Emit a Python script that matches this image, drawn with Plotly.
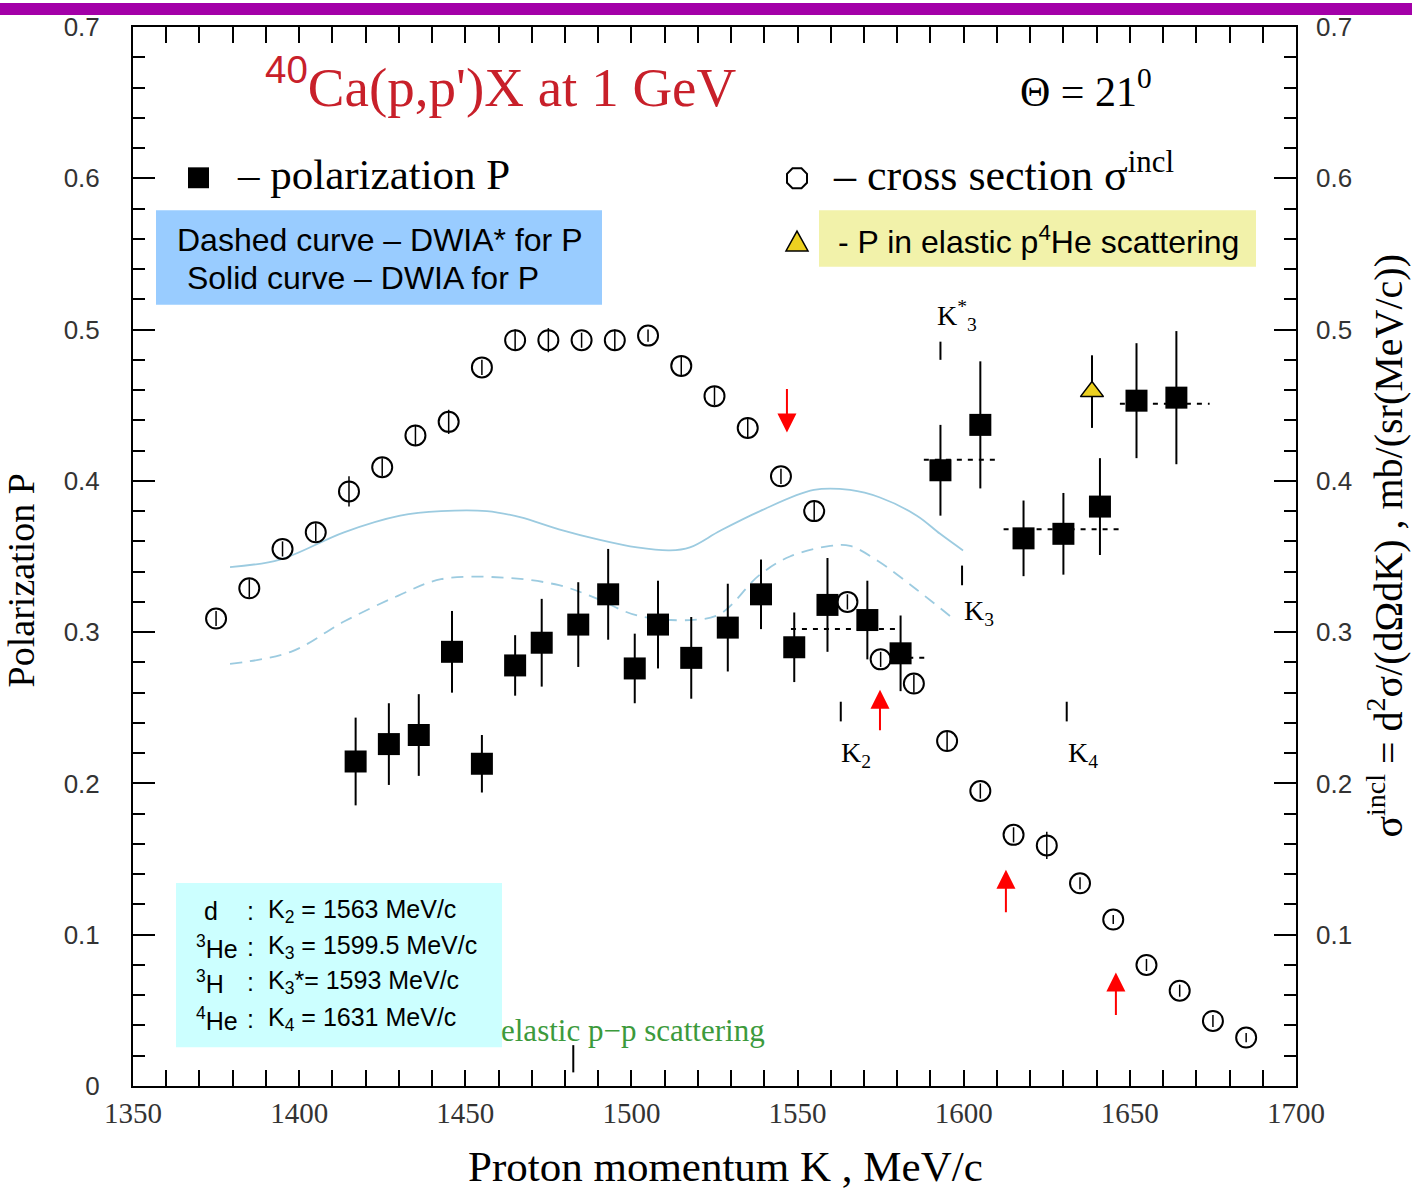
import plotly.graph_objects as go

# ---------------- data ----------------
# inclusive cross section (open circles), right axis units
xs_K = [1375, 1385, 1395, 1405, 1415, 1425, 1435, 1445, 1455, 1465, 1475, 1485,
        1495, 1505, 1515, 1525, 1535, 1545, 1555, 1565, 1575, 1585, 1595, 1605,
        1615, 1625, 1635, 1645, 1655, 1665, 1675, 1685]
xs_val = [0.309, 0.329, 0.355, 0.366, 0.393, 0.409, 0.430, 0.439, 0.475, 0.493,
          0.493, 0.493, 0.493, 0.496, 0.476, 0.456, 0.435, 0.403, 0.380, 0.320,
          0.282, 0.266, 0.228, 0.195, 0.166, 0.159, 0.134, 0.110, 0.080, 0.063,
          0.043, 0.032]
xs_err = [0.005, 0.006, 0.005, 0.006, 0.010, 0.006, 0.007, 0.008, 0.005, 0.007,
          0.008, 0.005, 0.007, 0.004, 0.006, 0.006, 0.007, 0.005, 0.007, 0.005,
          0.005, 0.006, 0.006, 0.005, 0.005, 0.009, 0.004, 0.003, 0.004, 0.004,
          0.004, 0.003]

# polarization P (filled squares)
pol_K = [1417, 1427, 1436, 1446, 1455, 1465, 1473, 1484, 1493, 1501, 1508, 1518,
         1529, 1539, 1549, 1559, 1571, 1581, 1593, 1605, 1618, 1630, 1641, 1652, 1664]
pol_val = [0.2145, 0.226, 0.232, 0.287, 0.213, 0.278, 0.293, 0.305, 0.325, 0.276,
           0.305, 0.283, 0.303, 0.325, 0.290, 0.318, 0.308, 0.286, 0.407, 0.437,
           0.362, 0.365, 0.383, 0.453, 0.455]
pol_err = [0.029, 0.027, 0.027, 0.027, 0.019, 0.020, 0.029, 0.028, 0.030, 0.023,
           0.029, 0.027, 0.029, 0.023, 0.023, 0.031, 0.026, 0.025, 0.030, 0.042,
           0.025, 0.027, 0.032, 0.038, 0.044]

# P in elastic p4He scattering (triangle)
he4_K = [1638.6]
he4_val = [0.459]
he4_err = [0.024]

# averaged P levels (dotted segments)
avg_x0 = [1548, 1580, 1588, 1612, 1647]
avg_x1 = [1581, 1589, 1610, 1647, 1674]
avg_y = [0.302, 0.283, 0.414, 0.368, 0.451]

# DWIA curves
dwia_K = [1379.2, 1394.2, 1413.5, 1430.4, 1442.7, 1456.5, 1466.5, 1478.2, 1490.5,
          1501.7, 1511.6, 1517.6, 1526.7, 1538.7, 1554.9, 1565.8, 1574.8, 1585.9,
          1592.9, 1599.8]
dwia_P = [0.343, 0.348, 0.366, 0.377, 0.380, 0.380, 0.376, 0.368, 0.361, 0.356,
          0.354, 0.356, 0.367, 0.380, 0.394, 0.394, 0.389, 0.377, 0.365, 0.354]
dwias_K = [1379.2, 1397.5, 1413.5, 1429.7, 1442.7, 1462.0, 1478.2, 1488.7, 1501.7,
           1517.6, 1526.7, 1538.4, 1547.7, 1559.8, 1565.8, 1574.2, 1585.9, 1596.8]
dwias_P = [0.279, 0.287, 0.307, 0.324, 0.335, 0.336, 0.331, 0.323, 0.311, 0.308,
           0.312, 0.3375, 0.350, 0.357, 0.357, 0.347, 0.328, 0.309]

# kinematic limits
k_names = ["K<sub>2</sub>", "K<sub>3</sub>", "K<sup>*</sup><sub>3</sub>", "K<sub>4</sub>"]
k_vals = [1563, 1599.5, 1593, 1631]
k_mark_lo = [0.241, 0.331, 0.480, 0.241]
k_mark_hi = [0.254, 0.344, 0.492, 0.254]
pp_K = 1482.5

# red arrows
arrow_K = [1546.8, 1574.8, 1612.7, 1645.8]
arrow_tip = [0.432, 0.262, 0.143, 0.075]
arrow_ay = [-45, 42, 44, 44]

x_ticks = [1350, 1400, 1450, 1500, 1550, 1600, 1650, 1700]
y_ticks_left = [0, 0.1, 0.2, 0.3, 0.4, 0.5, 0.6, 0.7]
y_ticks_right = [0.1, 0.2, 0.3, 0.4, 0.5, 0.6, 0.7]

# ---------------- layout helpers (pixel -> paper) ----------------
W, H = 1412, 1190
L, R, T, B = 133, 1296, 22, 1086


def px(xp):
    return (xp - L) / (R - L)


def py(yp):
    return (B - yp) / (B - T)


SERIF = "Liberation Serif, Times New Roman, serif"
SANS = "Liberation Sans, Arial, sans-serif"
CURVE = "#9ccbe0"

fig = go.Figure()

fig.add_trace(go.Scatter(x=dwia_K, y=dwia_P, mode="lines", line=dict(color=CURVE, width=1.8, shape="spline"),
                         showlegend=False, hoverinfo="skip"))
fig.add_trace(go.Scatter(x=dwias_K, y=dwias_P, mode="lines",
                         line=dict(color=CURVE, width=1.8, shape="spline", dash="12px,8px"),
                         showlegend=False, hoverinfo="skip"))

for x0, x1, yv in zip(avg_x0, avg_x1, avg_y):
    fig.add_trace(go.Scatter(x=[x0, x1], y=[yv, yv], mode="lines",
                             line=dict(color="black", width=2, dash="5px,6px"),
                             showlegend=False, hoverinfo="skip"))

fig.add_trace(go.Scatter(x=xs_K, y=xs_val, mode="markers",
                         marker=dict(symbol="circle-open", size=20, color="black", line=dict(width=2)),
                         error_y=dict(type="data", array=xs_err, color="black", thickness=1.5, width=0),
                         showlegend=False))

fig.add_trace(go.Scatter(x=pol_K, y=pol_val, mode="markers",
                         marker=dict(symbol="square", size=22, color="black"),
                         error_y=dict(type="data", array=pol_err, color="black", thickness=2, width=0),
                         showlegend=False))

fig.add_trace(go.Scatter(x=he4_K, y=he4_val, mode="markers",
                         marker=dict(symbol="triangle-up", size=20, color="#ecd020",
                                     line=dict(color="black", width=1.5)),
                         error_y=dict(type="data", array=he4_err, color="black", thickness=2, width=0),
                         showlegend=False))

# dummy trace for right axis
fig.add_trace(go.Scatter(x=[1350], y=[0], yaxis="y2", mode="markers",
                         marker=dict(opacity=0), showlegend=False, hoverinfo="skip"))

shapes = []
annotations = []

# K marks
for name, kv, lo, hi in zip(k_names, k_vals, k_mark_lo, k_mark_hi):
    shapes.append(dict(type="line", xref="x", yref="y", x0=kv, x1=kv, y0=lo, y1=hi,
                       line=dict(color="black", width=2)))
shapes.append(dict(type="line", xref="x", yref="y", x0=pp_K, x1=pp_K, y0=0.009, y1=0.027,
                   line=dict(color="black", width=2)))

k_lab_pos = [(856, 753), (979, 610), (957, 312), (1083, 753)]
for name, (xp, yp) in zip(k_names, k_lab_pos):
    annotations.append(dict(text=name, xref="paper", yref="paper", x=px(xp), y=py(yp),
                            xanchor="center", yanchor="middle",
                            showarrow=False, font=dict(family=SERIF, size=28, color="black")))

# arrows
for xa, ya, ay in zip(arrow_K, arrow_tip, arrow_ay):
    annotations.append(dict(x=xa, y=ya, xref="x", yref="y", ax=0, ay=ay, text="",
                            showarrow=True, arrowhead=2, arrowsize=1.9, arrowwidth=2,
                            arrowcolor="#ff0000"))

# boxes
shapes.append(dict(type="rect", xref="paper", yref="paper", x0=px(156), x1=px(602), y0=py(301), y1=py(206),
                   fillcolor="#99ccff", line=dict(width=0)))
shapes.append(dict(type="rect", xref="paper", yref="paper", x0=px(819), x1=px(1256), y0=py(263), y1=py(206),
                   fillcolor="#f2f2aa", line=dict(width=0)))
shapes.append(dict(type="rect", xref="paper", yref="paper", x0=px(176), x1=px(502), y0=py(1047), y1=py(882),
                   fillcolor="#ccffff", line=dict(width=0)))
# top purple band
shapes.append(dict(type="rect", xref="paper", yref="paper", x0=px(0), x1=px(W), y0=py(10), y1=py(-2),
                   fillcolor="#a300a8", line=dict(width=0)))

# legend keys
shapes.append(dict(type="rect", xref="paper", yref="paper", x0=px(188), x1=px(209), y0=py(184), y1=py(163),
                   fillcolor="black", line=dict(width=0)))


def oct_path(cx, cy, r):
    c = r * 0.45
    pts = [(cx - c, cy - r), (cx + c, cy - r), (cx + r, cy - c), (cx + r, cy + c),
           (cx + c, cy + r), (cx - c, cy + r), (cx - r, cy + c), (cx - r, cy - c)]
    return "M " + " L ".join("%f,%f" % (px(a), py(b)) for a, b in pts) + " Z"


shapes.append(dict(type="path", xref="paper", yref="paper", path=oct_path(797, 174, 10),
                   line=dict(color="black", width=2)))


def tri_path(cx, cy, w, h):
    return "M %f,%f L %f,%f L %f,%f Z" % (px(cx - w / 2), py(cy + h / 2), px(cx + w / 2), py(cy + h / 2),
                                         px(cx), py(cy - h / 2))


shapes.append(dict(type="path", xref="paper", yref="paper", path=tri_path(797, 237, 22, 20),
                   fillcolor="#ecd020", line=dict(color="black", width=1.5)))


def txt(text, xp, yp, size, family=SERIF, color="black", xanchor="left", angle=0):
    annotations.append(dict(text=text, xref="paper", yref="paper", x=px(xp), y=py(yp),
                            xanchor=xanchor, yanchor="middle", showarrow=False, textangle=angle,
                            font=dict(family=family, size=size, color=color)))


txt("<span style='font-family:Liberation Sans'><sup>40</sup></span>Ca(p,p')X at 1 GeV", 263, 78, 55,
    color="#c8202a")
txt("Θ = 21<sup>0</sup>", 1018, 84, 42)
txt("– polarization P", 235, 170, 43)
txt("– cross section σ<sup>incl</sup>", 831, 168, 44)
txt("Dashed curve – DWIA* for P", 175, 236, 32, family=SANS)
txt(" Solid curve – DWIA for P", 176, 274, 32, family=SANS)
txt("- P in elastic p<sup>4</sup>He scattering", 836, 236, 32, family=SANS)
txt("elastic p−p scattering", 499, 1030, 31, color="#3c9a3c")

iso_lab = ["d", "<sup>3</sup>He", "<sup>3</sup>H", "<sup>4</sup>He"]
iso_x = [202, 194, 194, 194]
k_lines = ["K<sub>2</sub> = 1563 MeV/c", "K<sub>3</sub> = 1599.5 MeV/c",
           "K<sub>3</sub>*= 1593 MeV/c", "K<sub>4</sub> = 1631 MeV/c"]
line_y = [910, 946, 982, 1019]
for lab, xi, kl, yl in zip(iso_lab, iso_x, k_lines, line_y):
    txt(lab, xi, yl, 25, family=SANS)
    txt(":", 245, yl, 25, family=SANS)
    txt(kl, 266, yl, 25, family=SANS)

# axis titles
txt("Polarization P", 21, 578, 38, angle=-90, xanchor="center")
txt("Proton momentum K , MeV/c", 725, 1167, 43, xanchor="center")
txt("σ<sup>incl</sup> = d<sup>2</sup>σ/(dΩdK) , mb/(sr(MeV/c))", 1386, 543, 40, angle=-90, xanchor="center")

fig.update_layout(
    width=W, height=H,
    margin=dict(l=L, r=W - R, t=T, b=H - B),
    paper_bgcolor="white", plot_bgcolor="white",
    showlegend=False,
    shapes=shapes, annotations=annotations,
    xaxis=dict(range=[1350, 1700], tickvals=x_ticks, ticks="inside", ticklen=16, tickwidth=2,
               tickcolor="black", showline=True, linecolor="black", linewidth=2, mirror="allticks",
               showgrid=False, zeroline=False,
               minor=dict(dtick=10, tick0=1350, ticks="inside", ticklen=8, tickwidth=1.5, tickcolor="black"),
               tickfont=dict(family=SERIF, size=29, color="#333"), ticklabelstandoff=0),
    yaxis=dict(range=[0, 0.7], tickvals=y_ticks_left, ticktext=["0", "0.1", "0.2", "0.3", "0.4", "0.5", "0.6", "0.7"],
               ticks="inside", ticklen=22, tickwidth=2,
               tickcolor="black", showline=True, linecolor="black", linewidth=2, mirror="allticks",
               showgrid=False, zeroline=False,
               minor=dict(dtick=0.02, tick0=0, ticks="inside", ticklen=12, tickwidth=1.5, tickcolor="black"),
               tickfont=dict(family=SANS, size=26, color="#333"), ticklabelstandoff=26),
    yaxis2=dict(range=[0, 0.7], overlaying="y", side="right", tickvals=y_ticks_right,
                ticktext=["0.1", "0.2", "0.3", "0.4", "0.5", "0.6", "0.7"],
                ticks="", showline=False, showgrid=False, zeroline=False,
                tickfont=dict(family=SANS, size=26, color="#333"), ticklabelstandoff=19),
)

fig.write_html("out.html", config={"displayModeBar": False},
               post_script="document.body.style.margin='0px';document.body.style.overflow='hidden';")
